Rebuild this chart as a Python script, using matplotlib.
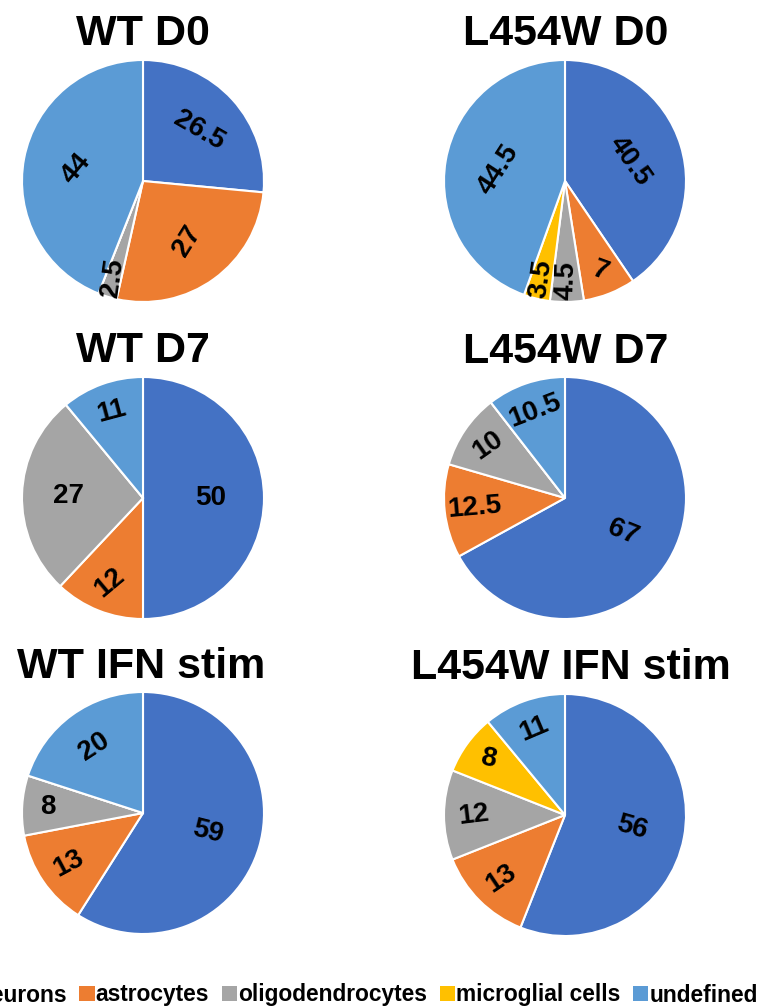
"""Cell-type composition pies: WT vs L454W at D0, D7 and after IFN stimulation."""
import matplotlib

matplotlib.use("Agg")
import matplotlib.pyplot as plt
import numpy as np
from matplotlib.patches import Patch

plt.rcParams["font.family"] = ["Liberation Sans", "DejaVu Sans"]

# data
CELL_TYPES = ["neurons", "astrocytes", "oligodendrocytes", "microglial cells", "undefined"]
TITLES = ["WT D0", "L454W D0", "WT D7", "L454W D7", "WT IFN stim", "L454W IFN stim"]
WT_D0 = [26.5, 27, 2.5, 0, 44]
L454W_D0 = [40.5, 7, 4.5, 3.5, 44.5]
WT_D7 = [50, 12, 27, 0, 11]
L454W_D7 = [67, 12.5, 10, 0, 10.5]
WT_IFN = [59, 13, 8, 0, 20]
L454W_IFN = [56, 13, 12, 8, 11]
LABELS = ["26.5", "27", "2.5", "", "44"], ["40.5", "7", "4.5", "3.5", "44.5"], \
    ["50", "12", "27", "", "11"], ["67", "12.5", "10", "", "10.5"], \
    ["59", "13", "8", "", "20"], ["56", "13", "12", "8", "11"]

# styling
COLORS = ["#4472C4", "#ED7D31", "#A5A5A5", "#FFC000", "#5B9BD5"]
# label text rotation (deg) per wedge
ROTATIONS = [
    [-30, 58, 82, 0, 50],
    [-55, -20, 88, 82, 57],
    [0, 40, 0, 0, 15],
    [-22, 5, 35, 0, 21],
    [-14, 28, 0, 0, 33],
    [-16, 34, 7, -12, 23],
]

W, H = 761, 1007
R = 121
CENTERS = [(143, 181), (565, 181), (143, 498), (565, 498), (143, 813), (565, 815)]
TITLE_POS = [(143, 45), (566, 45), (143, 362), (566, 363), (141, 678), (571, 679)]


def draw_pie(fig, values, labels, rots, center, title, title_xy):
    cx, cy = center
    ax = fig.add_axes([(cx - R) / W, 1 - (cy + R) / H, 2 * R / W, 2 * R / H])
    wedges, _ = ax.pie(values, colors=COLORS, startangle=90, counterclock=False,
                       radius=1, wedgeprops=dict(edgecolor="white", linewidth=1.5))
    total = float(sum(values))
    for w, v, lab, rot in zip(wedges, values, labels, rots):
        if v == 0:
            continue
        f = v / total
        r_lab = float(np.clip(0.86 - 0.9 * f, 0.56, 0.86))
        mid = np.deg2rad((w.theta1 + w.theta2) / 2)
        ax.text(r_lab * np.cos(mid), r_lab * np.sin(mid), lab, ha="center", va="center",
                rotation=rot, rotation_mode="anchor", fontsize=20, fontweight="bold",
                color="black")
    ax.set_xlim(-1, 1)
    ax.set_ylim(-1, 1)
    ax.axis("off")
    fig.text(title_xy[0] / W, 1 - title_xy[1] / H, title, ha="center", va="baseline",
             fontsize=31, fontweight="bold")


def main():
    fig = plt.figure(figsize=(W / 100, H / 100), dpi=100)
    series = [WT_D0, L454W_D0, WT_D7, L454W_D7, WT_IFN, L454W_IFN]
    for i, vals in enumerate(series):
        draw_pie(fig, vals, LABELS[i], ROTATIONS[i], CENTERS[i], TITLES[i], TITLE_POS[i])

    # legend runs off the left edge in the original, so only "rons" of neurons shows
    handles = [Patch(facecolor=c, edgecolor="none") for c in COLORS]
    fig.legend(handles, CELL_TYPES, loc="center right", ncol=5, frameon=False,
               bbox_to_anchor=(758 / W, 1 - 995 / H), borderpad=0, borderaxespad=0,
               prop=dict(size=16.4, weight="bold"), handlelength=0.66, handleheight=0.66,
               handletextpad=0.05, columnspacing=0.57)

    fig.savefig("out.png", dpi=100)
    plt.close(fig)


if __name__ == "__main__":
    main()
